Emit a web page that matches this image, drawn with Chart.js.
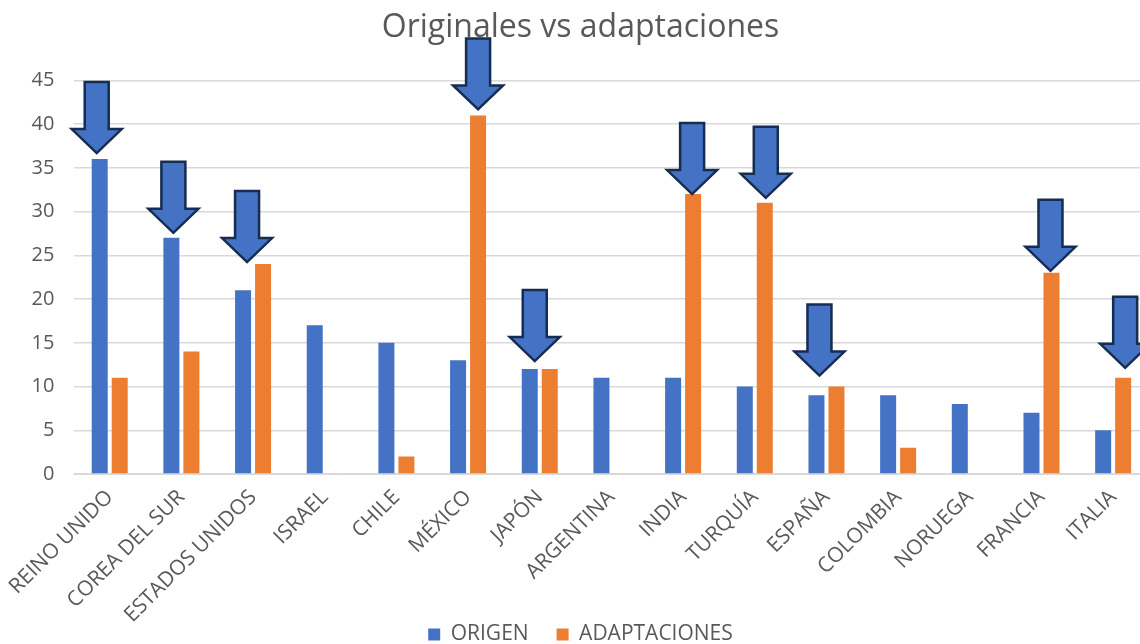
<!DOCTYPE html>
<html>
<head>
<meta charset="utf-8">
<script src="https://cdn.jsdelivr.net/npm/chart.js@4.4.1/dist/chart.umd.min.js"></script>
<style>
    html, body { margin: 0; padding: 0; background: #fff; overflow: hidden; }
    .wrap { width: 1174px; height: 655px; }
</style>
</head>
<body>
<div class="wrap"><canvas id="chart"></canvas></div>
<script>
    // Data
    const categories = ["REINO UNIDO", "COREA DEL SUR", "ESTADOS UNIDOS", "ISRAEL", "CHILE", "MÉXICO", "JAPÓN",
        "ARGENTINA", "INDIA", "TURQUÍA", "ESPAÑA", "COLOMBIA", "NORUEGA", "FRANCIA", "ITALIA"];
    const origen = [36, 27, 21, 17, 15, 13, 12, 11, 11, 10, 9, 9, 8, 7, 5];
    const adaptaciones = [11, 14, 24, null, 2, 41, 12, null, 32, 31, 10, 3, null, 23, 11];
    const yTicks = [0, 5, 10, 15, 20, 25, 30, 35, 40, 45];

    // Arrows drawn over the bars (category, series the arrow points at)
    const arrowMarks = [
        { label: "REINO UNIDO", series: 0, dx: -3, gap: 6 },
        { label: "COREA DEL SUR", series: 0, dx: 2, gap: 5 },
        { label: "ESTADOS UNIDOS", series: 1, dx: -16, gap: 2 },
        { label: "MÉXICO", series: 1, dx: 0, gap: 6 },
        { label: "JAPÓN", series: 0, dx: 5, gap: 8 },
        { label: "INDIA", series: 1, dx: -1, gap: 0 },
        { label: "TURQUÍA", series: 1, dx: 1, gap: 5 },
        { label: "ESPAÑA", series: 1, dx: -17, gap: 11 },
        { label: "FRANCIA", series: 1, dx: -1, gap: 2 },
        { label: "ITALIA", series: 1, dx: 2, gap: 10 }
    ];

    const grey = "#595959";
    const font = "'Open Sans', sans-serif";

    const arrowPlugin = {
        id: "arrows",
        afterDraw(chart) {
            const ctx = chart.ctx;
            ctx.save();
            arrowMarks.forEach(function (a) {
                const i = categories.indexOf(a.label);
                const bar = chart.getDatasetMeta(a.series).data[i];
                if (!bar) return;
                const x = bar.x + a.dx;
                const y = bar.y - a.gap;
                ctx.beginPath();
                ctx.moveTo(x - 12, y - 71);
                ctx.lineTo(x + 12, y - 71);
                ctx.lineTo(x + 12, y - 24);
                ctx.lineTo(x + 25, y - 24);
                ctx.lineTo(x, y);
                ctx.lineTo(x - 25, y - 24);
                ctx.lineTo(x - 12, y - 24);
                ctx.closePath();
                ctx.fillStyle = "#4472C4";
                ctx.fill();
                ctx.lineWidth = 2.5;
                ctx.lineJoin = "miter";
                ctx.strokeStyle = "#172C51";
                ctx.stroke();
            });
            ctx.restore();
        }
    };

    const ctx = document.getElementById("chart").getContext("2d");
    const chart = new Chart(ctx, {
        type: "bar",
        data: {
            labels: categories,
            datasets: [{
                    label: "ORIGEN",
                    data: origen,
                    backgroundColor: "#4472C4"
                },
                {
                    label: "ADAPTACIONES",
                    data: adaptaciones,
                    backgroundColor: "#ED7D31"
                }
            ]
        },
        options: {
            responsive: true,
            maintainAspectRatio: false,
            animation: false,
            categoryPercentage: 0.558,
            barPercentage: 0.8,
            layout: { padding: { left: 12, right: 25, top: 0, bottom: 0 } },
            plugins: {
                title: {
                    display: true,
                    text: "Originales vs adaptaciones",
                    color: grey,
                    font: { family: font, size: 32, weight: "normal" },
                    padding: { top: 9, bottom: 33 }
                },
                legend: {
                    position: "bottom",
                    labels: {
                        color: grey,
                        font: { family: font, size: 21 },
                        boxWidth: 12,
                        boxHeight: 12,
                        padding: 28
                    }
                },
                tooltip: { enabled: false }
            },
            scales: {
                x: {
                    grid: { display: false },
                    border: { color: "#D9D9D9" },
                    ticks: {
                        color: grey,
                        font: { family: font, size: 21 },
                        minRotation: 45,
                        maxRotation: 45,
                        autoSkip: false
                    },
                    afterFit: function (scale) {
                        scale.paddingLeft = 0;
                        scale.paddingRight = 0;
                        scale.height = 122;
                        // let the long rotated labels run past the axis box
                        scale._computeLabelArea = function () { return null; };
                    }
                },
                y: {
                    min: 0,
                    max: 45,
                    afterBuildTicks: function (axis) {
                        axis.ticks = yTicks.map(function (v) { return { value: v }; });
                    },
                    grid: { color: "#D9D9D9", lineWidth: 1.5, drawTicks: false },
                    border: { display: false },
                    ticks: {
                        color: grey,
                        font: { family: font, size: 20 },
                        padding: 19.5
                    }
                }
            }
        },
        plugins: [arrowPlugin]
    });
</script>
</body>
</html>
